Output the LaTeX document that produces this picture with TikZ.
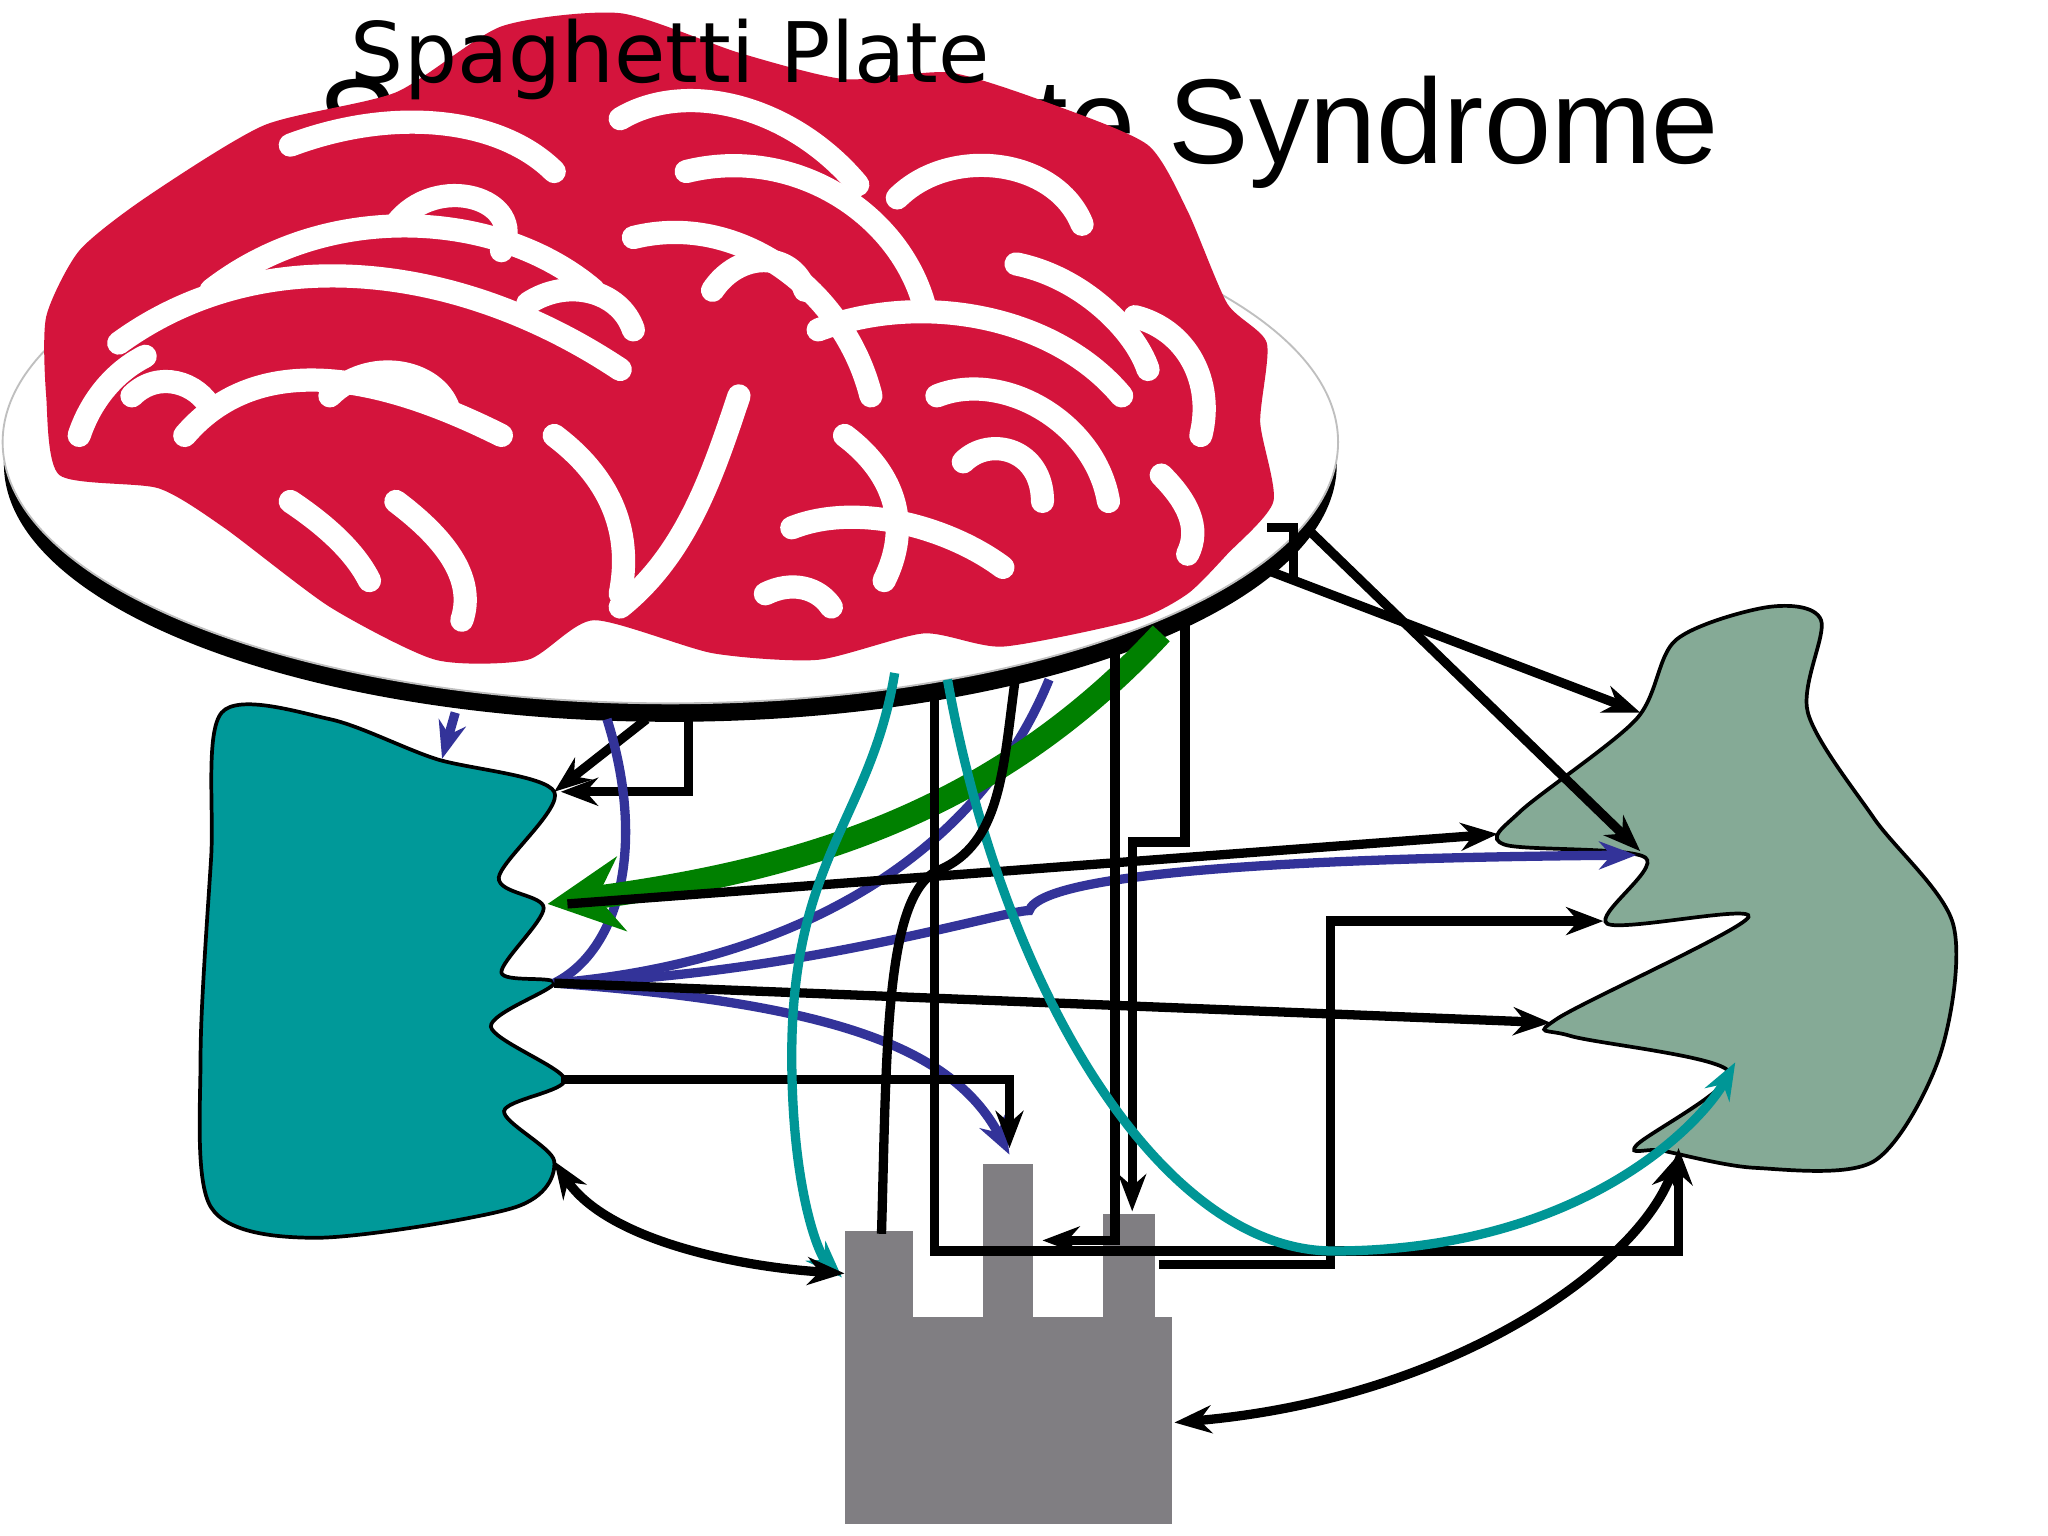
\documentclass[tikz,border=0pt]{standalone}
\usepackage{fontspec}
\setmainfont{Liberation Sans}
\newfontfamily\comic{DejaVu Sans}
\usetikzlibrary{arrows.meta}
\definecolor{spred}{RGB}{212,20,60}
\definecolor{tealb}{RGB}{0,153,153}
\definecolor{sage}{RGB}{133,170,150}
\definecolor{fac}{RGB}{128,126,130}
\definecolor{bl}{RGB}{51,51,153}
\definecolor{gr}{RGB}{0,128,0}
\definecolor{tl}{RGB}{0,150,150}
\tikzset{
 conn/.style={line width=2pt,-{Stealth[length=8pt,width=6pt]}},
 dconn/.style={line width=2pt,{Stealth[length=8pt,width=6pt]}-{Stealth[length=8pt,width=6pt]}},
 noodle/.style={white,line width=5pt,line cap=round}
}
\begin{document}
\begin{tikzpicture}[x=0.01cm,y=-0.01cm]
\useasboundingbox[fill=white] (0,0) rectangle (1552,1164);
\node[anchor=west,font=\fontsize{26}{28}\selectfont] (title) at (228,100) {Spaghetti Plate Syndrome};
% plate
\fill[black] (508,352) ellipse [x radius=505,y radius=195];
\filldraw[fill=white,draw=gray!50] (508,335) ellipse [x radius=506,y radius=198];
% spaghetti
\fill[spred] plot[smooth cycle,tension=0.4] coordinates {(35,240)(60,190)(110,150)(200,95)(300,70)(380,20)(470,10)(560,40)(640,60)(720,55)(800,80)(870,110)(900,160)(930,230)(960,260)(955,320)(965,380)(930,420)(900,450)(860,470)(760,490)(700,480)(620,500)(540,495)(450,470)(400,500)(330,500)(250,460)(170,400)(120,370)(45,360)(35,300)};
\foreach \p in {
 {(90,260) .. controls (200,180) and (350,200) .. (470,280)},
 {(140,330) .. controls (200,260) and (300,290) .. (380,330)},
 {(160,220) .. controls (250,150) and (380,160) .. (450,220)},
 {(220,110) .. controls (300,80) and (380,90) .. (420,130)},
 {(300,170) .. controls (330,130) and (400,150) .. (380,190)},
 {(470,90) .. controls (520,60) and (600,80) .. (650,140)},
 {(480,180) .. controls (560,160) and (640,220) .. (660,300)},
 {(520,130) .. controls (600,110) and (680,160) .. (700,230)},
 {(680,150) .. controls (720,110) and (800,120) .. (820,170)},
 {(620,250) .. controls (700,220) and (800,240) .. (850,300)},
 {(710,300) .. controls (760,280) and (830,320) .. (840,380)},
 {(560,300) .. controls (540,360) and (520,420) .. (470,460)},
 {(420,330) .. controls (460,360) and (480,400) .. (470,450)},
 {(300,380) .. controls (340,410) and (360,440) .. (350,470)},
 {(220,380) .. controls (250,400) and (270,420) .. (280,440)},
 {(600,400) .. controls (650,380) and (720,400) .. (760,430)},
 {(640,330) .. controls (680,360) and (690,400) .. (670,440)},
 {(860,240) .. controls (900,250) and (920,290) .. (910,330)},
 {(770,200) .. controls (820,210) and (860,250) .. (870,280)},
 {(100,300) .. controls (120,280) and (150,290) .. (160,310)},
 {(400,230) .. controls (430,210) and (470,220) .. (480,250)},
 {(250,300) .. controls (280,270) and (330,280) .. (340,310)},
 {(730,350) .. controls (750,330) and (790,340) .. (790,380)},
 {(540,220) .. controls (560,190) and (600,190) .. (610,220)},
 {(60,330) .. controls (70,300) and (90,280) .. (110,270)},
 {(580,450) .. controls (600,440) and (620,445) .. (630,460)},
 {(880,360) .. controls (900,380) and (910,400) .. (900,420)}}
 {\draw[noodle] \p;}
\node[font=\comic\fontsize{18}{20}\selectfont] (sp) at (508,45) {Spaghetti Plate};
% blobs
\draw[fill=tealb,line width=0.8pt] plot[smooth cycle,tension=0.5] coordinates {(168,540)(250,545)(330,575)(420,600)(378,665)(412,688)(380,737)(420,745)(372,778)(428,818)(382,842)(420,880)(390,915)(240,938)(160,915)(152,800)(160,650)};
\draw[fill=sage,line width=0.8pt] plot[smooth cycle,tension=0.5] coordinates {(1270,485)(1340,460)(1380,470)(1370,540)(1420,620)(1480,700)(1470,800)(1420,880)(1330,885)(1260,872)(1240,868)(1310,812)(1190,785)(1180,772)(1325,695)(1218,700)(1247,650)(1140,640)(1152,615)(1240,545)};
% factory
\fill[fac] (640,998) rectangle (888,1155);
\fill[fac] (640,933) rectangle (692,998);
\fill[fac] (745,882) rectangle (783,998);
\fill[fac] (836,920) rectangle (875,998);
\coordinate (hub) at (420,745);
% connectors
\draw[conn] (490,545) -- (420,600);
\draw[conn] (522,545) -- (522,600) -- (425,600);
\draw[conn,bl] (345,540) -- (335,575);
\draw[bl,line width=2pt] (460,545) .. controls (490,640) and (470,720) .. (hub);
\draw[bl,line width=2pt] (hub) .. controls (600,730) and (740,650) .. (795,515);
\draw[conn,bl] (hub) .. controls (600,740) and (760,690) .. (780,690) .. controls (790,660) and (1000,650) .. (1240,648);
\draw[conn,bl] (hub) .. controls (620,760) and (720,790) .. (765,875);
\draw[conn] (hub) -- (1175,775);
\draw[conn] (425,818) -- (765,818) -- (765,870);
\draw[line width=5pt,gr,-{Stealth[length=16pt,width=16pt]}] (880,480) .. controls (750,620) and (600,660) .. (415,685);
\draw[conn] (430,685) -- (1135,632);
\draw[conn] (960,432) -- (1243,540);
\draw[conn] (990,400) -- (1243,645);
\draw[conn] (878,958) -- (1008,958) -- (1008,698) -- (1215,698);
\draw[conn] (708,520) -- (708,948) -- (1272,948) -- (1272,870);
\draw[conn] (898,470) -- (898,638) -- (858,638) -- (858,918);
\draw[conn] (845,490) -- (845,940) -- (790,940);
\draw[conn,tl] (678,510) .. controls (660,620) and (600,650) .. (600,800) .. controls (600,900) and (620,950) .. (638,968);
\draw[conn,tl] (718,515) .. controls (760,750) and (880,948) .. (1010,948) .. controls (1200,948) and (1290,850) .. (1315,805);
\draw[line width=2pt] (668,935) .. controls (672,800) and (670,680) .. (710,660) .. controls (760,640) and (760,580) .. (770,510);
\draw[dconn] (420,880) .. controls (460,940) and (560,960) .. (640,965);
\draw[dconn] (890,1078) .. controls (1100,1060) and (1240,960) .. (1272,875);
\draw[line width=2pt] (960,400) -- (980,400) -- (980,440);
\end{tikzpicture}
\end{document}
